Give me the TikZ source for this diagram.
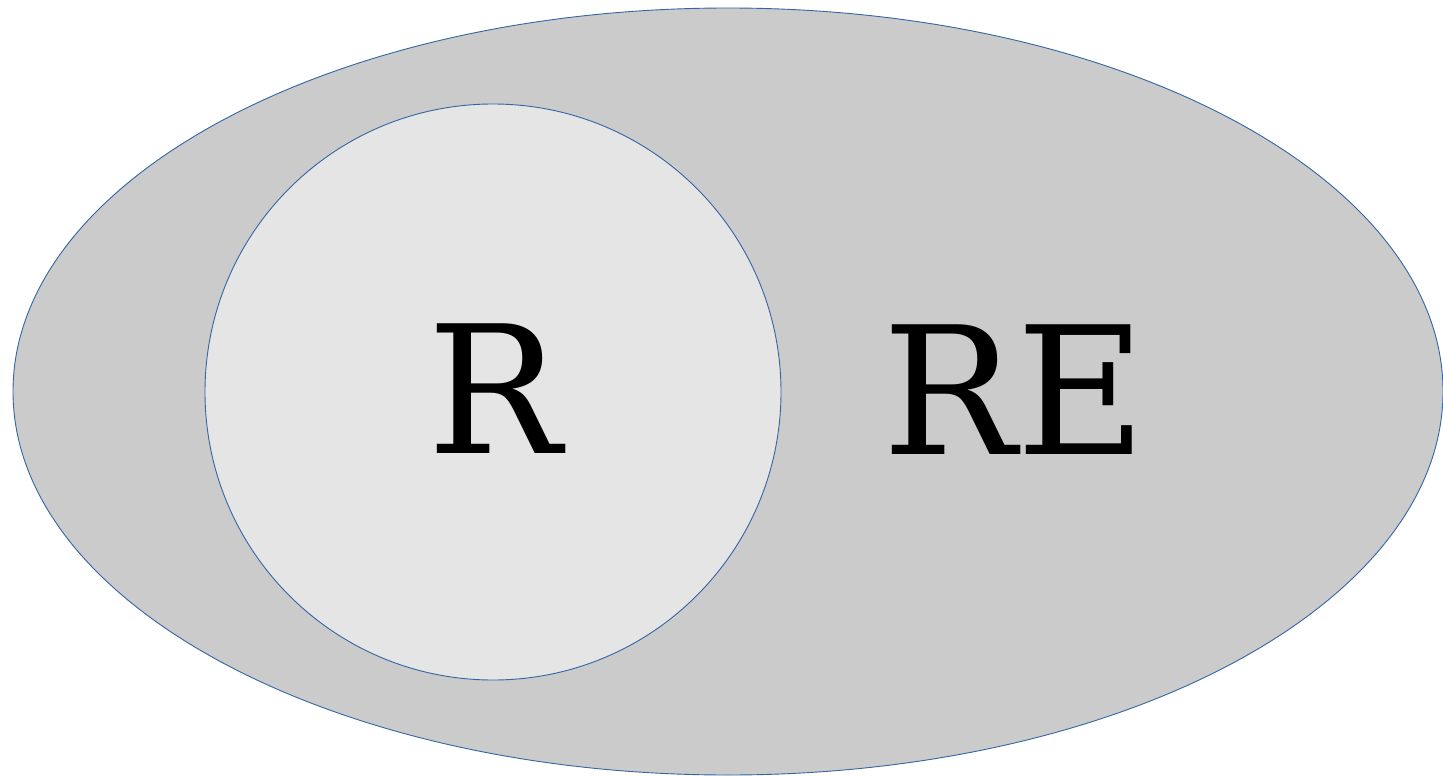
\documentclass[tikz,border=0pt]{standalone}
\usepackage{fontspec}
\setmainfont{DejaVu Serif}
\usetikzlibrary{shapes.geometric}
\definecolor{outerfill}{HTML}{CBCBCB}
\definecolor{innerfill}{HTML}{E5E5E5}
\definecolor{edgeblue}{HTML}{3465A4}
\tikzset{
  setshape/.style={draw=edgeblue, line width=0.9pt, inner sep=0pt},
  biglabel/.style={font=\fontsize{178}{178}\selectfont, text=black, inner sep=0pt, anchor=base}
}
\begin{document}
\begin{tikzpicture}[x=1pt,y=-1pt]
\useasboundingbox (0,0) rectangle (1443,776);
\node[setshape, ellipse, fill=outerfill, minimum width=1430pt, minimum height=767pt] (outer) at (728,391.5) {};
\node[setshape, circle, fill=innerfill, minimum size=576pt] (inner) at (493,392) {};
\node[biglabel] (r) at (494.5,453) {R};
\node[biglabel] (re) at (1014.5,454) {RE};
\end{tikzpicture}
\end{document}
